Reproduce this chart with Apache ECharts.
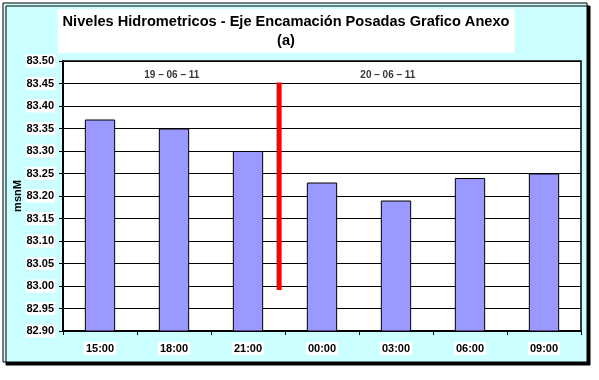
<!DOCTYPE html>
<html><head><meta charset="utf-8">
<script src="https://cdn.jsdelivr.net/npm/echarts@6/dist/echarts.min.js"></script>
<style>html,body{margin:0;padding:0;background:#fff}#c{width:599px;height:380px}</style>
</head><body><div id="c"></div>
<script>
var categories = ['15:00','18:00','21:00','00:00','03:00','06:00','09:00'];
var levels = [83.37, 83.35, 83.30, 83.23, 83.19, 83.24, 83.25];
var yTicks = {min: 82.90, max: 83.50, step: 0.05};
var dividerX = [2.92, 2.92];
var dividerY = [83.452, 82.991];
var dateLabels = ['19 – 06 – 11', '20 – 06 – 11'];
var dateX = [1.47, 4.39];
var dateY = [83.469, 83.469];

var chart = echarts.init(document.getElementById('c'));
var font = 'Arial, "Liberation Sans", sans-serif';
chart.setOption({
  animation: false,
  graphic: [{
    type: 'rect', z: -10, silent: true,
    shape: {x: 3, y: 3, width: 584, height: 359},
    style: {fill: '#CCFFFF', stroke: '#000', lineWidth: 1, shadowColor: '#000', shadowOffsetX: 3, shadowOffsetY: 3, shadowBlur: 0}
  }],
  title: {
    text: 'Niveles Hidrometricos - Eje Encamación Posadas Grafico Anexo\n(a)',
    left: 281, top: 9, textAlign: 'center',
    backgroundColor: '#fff', padding: [3, 5, 3, 5],
    textStyle: {fontFamily: font, fontSize: 14.6, fontWeight: 'bold', color: '#000', lineHeight: 19, align: 'center'}
  },
  grid: {left: 63, right: 18, top: 61, bottom: 49, show: true, backgroundColor: '#fff', borderColor: '#000', borderWidth: 1.5, outerBoundsMode: 'none', containLabel: false},
  xAxis: [{
    type: 'category', data: categories,
    axisLine: {lineStyle: {color: '#000', width: 2}},
    axisTick: {show: true, length: 4, lineStyle: {color: '#000'}},
    axisLabel: {fontFamily: font, fontSize: 11, fontWeight: 'bold', color: '#000', margin: 11, backgroundColor: '#fff', padding: [1, 2]}
  }, {
    type: 'value', min: 0, max: 7, show: false
  }],
  yAxis: {
    type: 'value', min: yTicks.min, max: yTicks.max, interval: yTicks.step,
    name: 'msnM', nameLocation: 'middle', nameGap: 40, nameRotate: 90, nameMoveOverlap: false,
    nameTextStyle: {fontFamily: font, fontSize: 11, fontWeight: 'bold', color: '#000'},
    axisLine: {show: true, lineStyle: {color: '#000', width: 2}},
    axisTick: {show: true, length: 4, lineStyle: {color: '#000'}},
    axisLabel: {fontFamily: font, fontSize: 11, fontWeight: 'bold', color: '#000', margin: 8, backgroundColor: '#fff', padding: [1, 1],
      formatter: function (v) { return v.toFixed(2); }},
    splitLine: {show: true, lineStyle: {color: '#000', width: 1}}
  },
  series: [{
    type: 'bar', data: levels, barWidth: '41%',
    itemStyle: {color: '#9999FF', borderColor: '#000', borderWidth: 1}
  }, {
    type: 'line', xAxisIndex: 1, symbol: 'none',
    data: dividerX.map(function (x, i) { return [x, dividerY[i]]; }),
    lineStyle: {color: '#FF0000', width: 5, cap: 'butt'}, z: 5
  }, {
    type: 'scatter', xAxisIndex: 1, symbolSize: 0,
    data: dateX.map(function (x, i) { return {value: [x, dateY[i]], label: {formatter: dateLabels[i]}}; }),
    label: {show: true, position: 'inside', fontFamily: font, fontSize: 10, fontWeight: 'bold', color: '#000'}
  }]
});
</script></body></html>
